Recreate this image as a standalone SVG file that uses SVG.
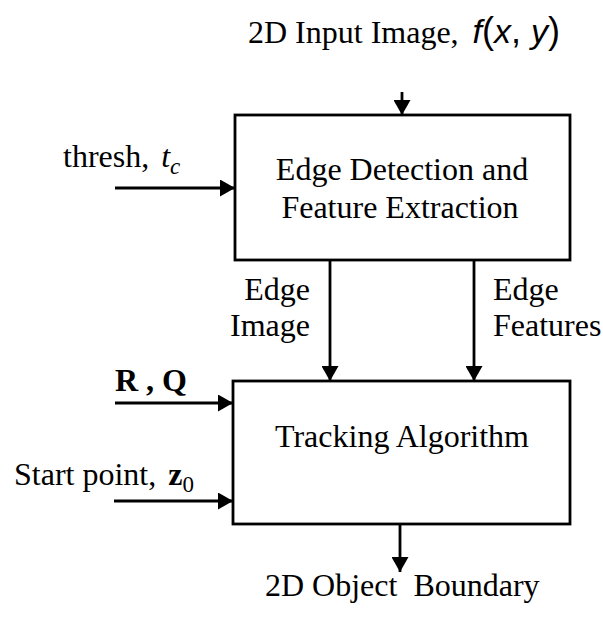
<svg xmlns="http://www.w3.org/2000/svg" width="603" height="619" viewBox="0 0 603 619">
<style>
text{font-family:"Liberation Serif","Times New Roman",serif;font-size:32px;fill:#000}
.m{font-family:"Liberation Sans",Arial,sans-serif;font-style:italic;font-size:34px}
.p{font-family:"Liberation Sans",Arial,sans-serif;font-size:36px}
.box{fill:#fff;stroke:#000;stroke-width:2.8}
.c{stroke:#000;stroke-width:2.8;fill:none;marker-end:url(#ah)}
</style>
<defs>
<marker id="ah" markerUnits="userSpaceOnUse" markerWidth="16" markerHeight="17" refX="15" refY="8.5" orient="auto">
<path d="M0,0 L15,8.5 L0,17 z" fill="#000"/>
</marker>
</defs>
<rect width="603" height="619" fill="#fff"/>
<g id="connectors">
<line class="c" x1="402" y1="92" x2="402" y2="115"/>
<line class="c" x1="115" y1="188" x2="235" y2="188"/>
<line class="c" x1="330" y1="260" x2="330" y2="381"/>
<line class="c" x1="474" y1="260" x2="474" y2="381"/>
<line class="c" x1="115" y1="403" x2="233" y2="403"/>
<line class="c" x1="114" y1="501" x2="233" y2="501"/>
<line class="c" x1="400" y1="524" x2="400" y2="572"/>
</g>
<g id="input">
<text x="248" y="43">2D Input Image, <tspan class="m" dx="6">f</tspan><tspan class="p">(</tspan><tspan class="m">x</tspan><tspan class="p">, </tspan><tspan class="m">y</tspan><tspan class="p">)</tspan></text>
</g>
<g id="edge-detection">
<rect class="box" x="235" y="115" width="335" height="145"/>
<text x="402" y="180" text-anchor="middle">Edge Detection and</text>
<text x="400" y="218" text-anchor="middle">Feature Extraction</text>
</g>
<g id="thresh">
<text x="63" y="167">thresh, <tspan font-style="italic" dx="4">t</tspan><tspan font-style="italic" font-size="23" dy="7">c</tspan></text>
</g>
<g id="edge-image-label">
<text x="310" y="300" text-anchor="end">Edge</text>
<text x="310" y="336" text-anchor="end">Image</text>
</g>
<g id="edge-features-label">
<text x="493" y="300">Edge</text>
<text x="493" y="336">Features</text>
</g>
<g id="tracking">
<rect class="box" x="233" y="381" width="337" height="143"/>
<text x="402" y="447" text-anchor="middle">Tracking Algorithm</text>
</g>
<g id="rq">
<text x="115" y="391" font-weight="bold">R , Q</text>
</g>
<g id="start">
<text x="14" y="485">Start point, <tspan font-weight="bold" dx="4">z</tspan><tspan font-size="23" dy="7">0</tspan></text>
</g>
<g id="output">
<text x="265" y="596" xml:space="preserve">2D Object  Boundary</text>
</g>
</svg>
